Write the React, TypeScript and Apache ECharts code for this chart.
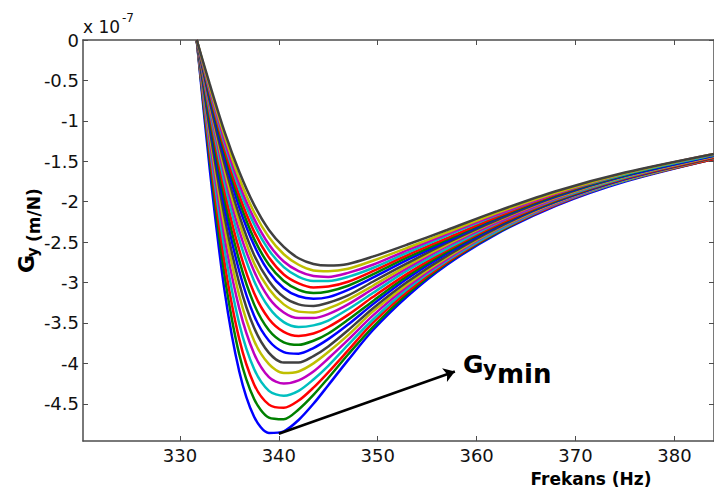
import React, { useEffect, useRef } from "react";
import * as echarts from "echarts";

// Frequency samples (Hz)
const FREQ = [331.7, 333, 334.5, 336, 337.5, 339, 340.5, 342, 343.5, 345, 347, 349.5, 353, 357, 362, 368, 375, 384];

// Gy values (x 1e-7 m/N), deepest curve first
const g01 = [0, -1.58, -3.09, -4.10, -4.66, -4.86, -4.84, -4.70, -4.50, -4.27, -3.96, -3.59, -3.17, -2.78, -2.40, -2.05, -1.75, -1.47];
const g02 = [0, -1.47, -2.90, -3.89, -4.44, -4.67, -4.69, -4.57, -4.39, -4.18, -3.89, -3.55, -3.14, -2.76, -2.39, -2.04, -1.74, -1.47];
const g03 = [0, -1.39, -2.74, -3.70, -4.26, -4.51, -4.55, -4.46, -4.30, -4.11, -3.84, -3.50, -3.11, -2.75, -2.38, -2.04, -1.74, -1.47];
const g04 = [0, -1.30, -2.58, -3.51, -4.07, -4.34, -4.40, -4.34, -4.20, -4.03, -3.77, -3.46, -3.08, -2.73, -2.37, -2.03, -1.74, -1.46];
const g05 = [0, -1.22, -2.43, -3.32, -3.88, -4.17, -4.25, -4.21, -4.10, -3.94, -3.71, -3.41, -3.05, -2.71, -2.35, -2.02, -1.73, -1.46];
const g06 = [0, -1.15, -2.30, -3.16, -3.72, -4.01, -4.12, -4.10, -4.00, -3.86, -3.65, -3.36, -3.02, -2.69, -2.34, -2.01, -1.73, -1.46];
const g07 = [0, -1.09, -2.18, -3.01, -3.56, -3.87, -3.99, -3.99, -3.91, -3.79, -3.59, -3.32, -2.99, -2.67, -2.33, -2.00, -1.72, -1.46];
const g08 = [0, -1.02, -2.06, -2.86, -3.41, -3.72, -3.86, -3.88, -3.81, -3.70, -3.52, -3.27, -2.95, -2.64, -2.31, -2.00, -1.72, -1.45];
const g09 = [0, -0.97, -1.96, -2.73, -3.27, -3.59, -3.74, -3.77, -3.72, -3.63, -3.46, -3.23, -2.92, -2.62, -2.30, -1.99, -1.71, -1.45];
const g10 = [0, -0.91, -1.86, -2.60, -3.13, -3.45, -3.61, -3.66, -3.63, -3.55, -3.40, -3.18, -2.89, -2.60, -2.29, -1.98, -1.71, -1.45];
const g11 = [0, -0.86, -1.76, -2.47, -2.98, -3.31, -3.49, -3.55, -3.53, -3.47, -3.33, -3.13, -2.85, -2.58, -2.27, -1.97, -1.70, -1.44];
const g12 = [0, -0.82, -1.67, -2.36, -2.86, -3.19, -3.37, -3.44, -3.44, -3.39, -3.27, -3.08, -2.82, -2.55, -2.26, -1.96, -1.69, -1.44];
const g13 = [0, -0.78, -1.60, -2.26, -2.76, -3.08, -3.27, -3.36, -3.37, -3.32, -3.21, -3.04, -2.79, -2.53, -2.24, -1.95, -1.69, -1.44];
const g14 = [0, -0.75, -1.53, -2.17, -2.66, -2.98, -3.18, -3.27, -3.29, -3.25, -3.16, -2.99, -2.76, -2.51, -2.23, -1.94, -1.68, -1.43];
const g15 = [0, -0.71, -1.45, -2.07, -2.54, -2.87, -3.07, -3.17, -3.20, -3.18, -3.09, -2.94, -2.72, -2.49, -2.21, -1.93, -1.68, -1.43];
const g16 = [0, -0.68, -1.39, -1.99, -2.46, -2.78, -2.98, -3.09, -3.13, -3.11, -3.04, -2.90, -2.69, -2.47, -2.20, -1.92, -1.67, -1.42];
const g17 = [0, -0.65, -1.34, -1.92, -2.37, -2.69, -2.90, -3.01, -3.06, -3.05, -2.99, -2.86, -2.66, -2.45, -2.19, -1.91, -1.66, -1.42];
const g18 = [0, -0.62, -1.28, -1.84, -2.28, -2.60, -2.81, -2.93, -2.98, -2.98, -2.93, -2.82, -2.63, -2.42, -2.17, -1.90, -1.66, -1.42];
const g19 = [0, -0.60, -1.24, -1.78, -2.21, -2.53, -2.74, -2.86, -2.92, -2.93, -2.88, -2.78, -2.60, -2.40, -2.16, -1.90, -1.65, -1.41];
const g20 = [0, -0.57, -1.18, -1.71, -2.13, -2.44, -2.65, -2.78, -2.85, -2.86, -2.83, -2.73, -2.57, -2.38, -2.14, -1.89, -1.65, -1.41];
const g21 = [0, -0.54, -1.13, -1.63, -2.04, -2.35, -2.56, -2.70, -2.77, -2.79, -2.77, -2.68, -2.53, -2.35, -2.12, -1.87, -1.64, -1.41];

const CURVES = [g01, g02, g03, g04, g05, g06, g07, g08, g09, g10, g11, g12, g13, g14, g15, g16, g17, g18, g19, g20, g21];

// MATLAB default line colour order
const COLORS = ["#0000ff", "#008000", "#ff0000", "#00bfbf", "#bf00bf", "#bfbf00", "#404040"];

const X_TICKS = [330, 340, 350, 360, 370, 380];
const Y_TICKS = [0, -0.5, -1, -1.5, -2, -2.5, -3, -3.5, -4, -4.5];

// Annotation arrow (data coordinates): from minimum of the deepest curve
const ARROW_START = [340, -4.87];
const ARROW_END = [357.8, -4.1];

const AXIS_COLOR = "#4d4d4d";
const FONT = "DejaVu Sans";

export default function App() {
  const ref = useRef<HTMLDivElement>(null);

  useEffect(() => {
    if (!ref.current) return;
    const chart = echarts.init(ref.current, null, { renderer: "svg" });

    const series: any[] = CURVES.map((c, i) => ({
      type: "line",
      name: "c" + (i + 1),
      data: FREQ.map((f, j) => [f, c[j]]),
      showSymbol: false,
      symbol: "none",
      smooth: 0.3,
      silent: true,
      lineStyle: { width: 2.5, color: COLORS[i % COLORS.length] },
      itemStyle: { color: COLORS[i % COLORS.length] },
      z: 2,
    }));

    series.push({
      type: "line",
      data: [],
      silent: true,
      z: 5,
      markLine: {
        silent: true,
        symbol: ["none", "arrow"],
        symbolSize: 11,
        label: { show: false },
        lineStyle: { color: "#000", width: 2.5, type: "solid" },
        emphasis: { disabled: true },
        data: [[{ coord: ARROW_START }, { coord: ARROW_END }]],
      },
    });

    const baseX = {
      type: "value",
      min: 320.2,
      max: 384,
      splitLine: { show: false },
    };
    const baseY = {
      type: "value",
      min: -4.96,
      max: 0,
      splitLine: { show: false },
    };

    chart.setOption({
      animation: false,
      backgroundColor: "#ffffff",
      grid: { left: 83, right: -1, top: 40, bottom: 51, containLabel: false },
      xAxis: [
        {
          ...baseX,
          position: "bottom",
          axisLine: { onZero: false, lineStyle: { color: AXIS_COLOR, width: 1.5 } },
          axisTick: { inside: true, length: 5, customValues: X_TICKS, lineStyle: { color: AXIS_COLOR } },
          axisLabel: {
            customValues: X_TICKS,
            color: "#111",
            fontFamily: FONT,
            fontSize: 18,
            margin: 5,
            formatter: (v: number) => String(v),
          },
        },
        {
          ...baseX,
          position: "top",
          axisLine: { onZero: false, lineStyle: { color: AXIS_COLOR, width: 1.5 } },
          axisTick: { inside: true, length: 5, customValues: X_TICKS, lineStyle: { color: AXIS_COLOR } },
          axisLabel: { show: false },
        },
      ],
      yAxis: [
        {
          ...baseY,
          position: "left",
          axisLine: { onZero: false, lineStyle: { color: AXIS_COLOR, width: 1.5 } },
          axisTick: { inside: true, length: 5, customValues: Y_TICKS, lineStyle: { color: AXIS_COLOR } },
          axisLabel: {
            customValues: Y_TICKS,
            color: "#111",
            fontFamily: FONT,
            fontSize: 18,
            margin: 4,
            formatter: (v: number) => String(v),
          },
        },
        {
          ...baseY,
          position: "right",
          axisLine: { onZero: false, lineStyle: { color: AXIS_COLOR, width: 1.5 } },
          axisTick: { inside: true, length: 5, customValues: Y_TICKS, lineStyle: { color: AXIS_COLOR } },
          axisLabel: { show: false },
        },
      ],
      series,
      graphic: [
        // exponent
        { type: "text", x: 83, y: 27, style: { text: "x 10", fontFamily: FONT, fontSize: 17, fill: "#111", align: "left", verticalAlign: "middle" } },
        { type: "text", x: 122, y: 18, style: { text: "-7", fontFamily: FONT, fontSize: 12, fill: "#111", align: "left", verticalAlign: "middle" } },
        // x axis title
        { type: "text", x: 591, y: 479, style: { text: "Frekans (Hz)", fontFamily: FONT, fontWeight: "bold", fontSize: 17, fill: "#000", align: "center", verticalAlign: "middle" } },
        // y axis title (rotated)
        { type: "text", x: 26.5, y: 273, rotation: Math.PI / 2, style: { text: "G", fontFamily: FONT, fontWeight: "bold", fontSize: 22, fill: "#000", align: "left", verticalAlign: "middle" } },
        { type: "text", x: 33, y: 257, rotation: Math.PI / 2, style: { text: "y", fontFamily: FONT, fontWeight: "bold", fontSize: 15, fill: "#000", align: "left", verticalAlign: "middle" } },
        { type: "text", x: 34, y: 242, rotation: Math.PI / 2, style: { text: "(m/N)", fontFamily: FONT, fontWeight: "bold", fontSize: 17, fill: "#000", align: "left", verticalAlign: "middle" } },
        // annotation text
        { type: "text", x: 463, y: 364.5, style: { text: "G", fontFamily: FONT, fontWeight: "bold", fontSize: 25, fill: "#000", align: "left", verticalAlign: "middle" } },
        { type: "text", x: 483, y: 369, style: { text: "y", fontFamily: FONT, fontWeight: "bold", fontSize: 21, fill: "#000", align: "left", verticalAlign: "middle" } },
        { type: "text", x: 497, y: 374, style: { text: "min", fontFamily: FONT, fontWeight: "bold", fontSize: 26, fill: "#000", align: "left", verticalAlign: "middle" } },
      ],
    });

    return () => chart.dispose();
  }, []);

  return (
    <div
      ref={ref}
      style={{ position: "fixed", left: 0, top: 0, width: 714, height: 492, background: "#fff" }}
    />
  );
}
